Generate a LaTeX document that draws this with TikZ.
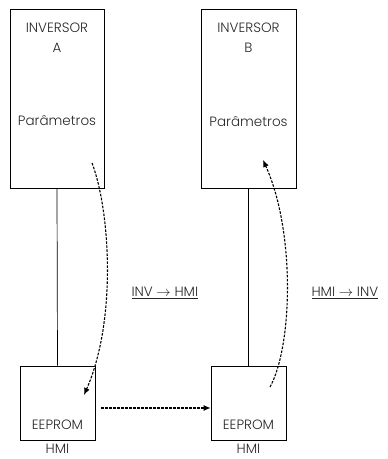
\documentclass[tikz,border=0pt]{standalone}
\usepackage{fontspec}
\setmainfont{Poppins}[UprightFont=* Light]
\usetikzlibrary{positioning,arrows.meta}

\begin{document}
\begin{tikzpicture}[x=1pt,y=-1pt,
        box/.style = {draw, line width=0.7pt, inner sep=0pt},
        lbl/.style = {font=\fontsize{13.5}{20}\selectfont, text=black!85, align=center},
        flow/.style = {line width=1.1pt, dash pattern=on 2.6pt off 1.4pt, -{Latex[length=7pt,width=6pt]}}]
    \useasboundingbox (0,0) rectangle (388,459);
    \node[box, minimum width=94pt, minimum height=179pt] at (57,98.5) (InvA) {};
    \node[box, minimum width=95pt, minimum height=179pt] at (248.5,98.5) (InvB) {};
    \node[box, minimum width=75pt, minimum height=74pt] at (57.5,403) (HmiA) {};
    \node[box, minimum width=75pt, minimum height=74pt] at (248.5,403) (HmiB) {};

    \node[lbl] at (57,38) (tA) {INVERSOR\\A};
    \node[lbl] at (248.5,38) (tB) {INVERSOR\\B};
    \node[lbl] at (57,121) (pA) {Parâmetros};
    \node[lbl] at (248.5,122) (pB) {Parâmetros};
    \node[lbl] at (57.5,425) (eA) {EEPROM};
    \node[lbl] at (248.5,425) (eB) {EEPROM};
    \node[lbl, inner sep=0pt, below = 4pt of HmiA] (hA) {HMI};
    \node[lbl, inner sep=0pt, below = 4pt of HmiB] (hB) {HMI};
    \node[lbl, anchor=west] at (128,293) (up) {\underline{INV $\rightarrow$ HMI}};
    \node[lbl, anchor=west] at (308,293) (down) {\underline{HMI $\rightarrow$ INV}};

    \draw[line width=0.7pt] (InvA.south) -- (HmiA.north);
    \draw[line width=0.7pt] (InvB.south) -- (HmiB.north);

    \coordinate (a0) at (92,163);
    \coordinate (a1) at (84,395);
    \coordinate (b0) at (270,387);
    \coordinate (b1) at (263,160);
    \coordinate (c0) at (101,408);
    \draw[flow] (a0) .. controls (110,210) and (117,320) .. (a1);
    \draw[flow] (b0) .. controls (293,345) and (295,230) .. (b1);
    \draw[flow] (c0) -- (HmiB.west |- c0);
\end{tikzpicture}
\end{document}
